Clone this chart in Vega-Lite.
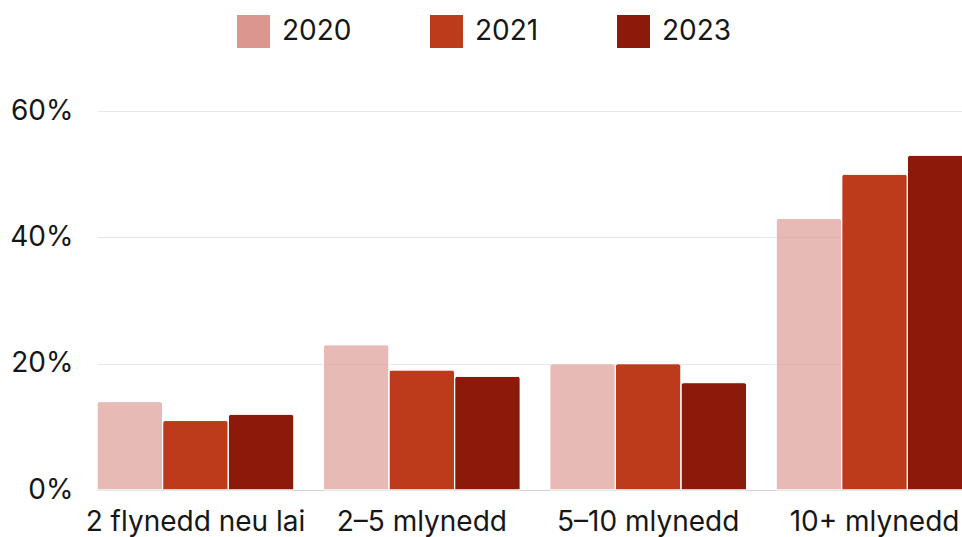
{
  "$schema": "https://vega.github.io/schema/vega-lite/v6.json",
  "autosize": "none",
  "width": 876,
  "height": 379,
  "padding": {"left": 97, "top": 111, "right": 0, "bottom": 47},
  "background": "white",
  "config": {
    "font": "Inter",
    "view": {"stroke": null}
  },
  "data": {
    "values": [
      {"category": "2 flynedd neu lai", "year": "2020", "value": 0.14},
      {"category": "2 flynedd neu lai", "year": "2021", "value": 0.11},
      {"category": "2 flynedd neu lai", "year": "2023", "value": 0.12},
      {"category": "2–5 mlynedd", "year": "2020", "value": 0.23},
      {"category": "2–5 mlynedd", "year": "2021", "value": 0.19},
      {"category": "2–5 mlynedd", "year": "2023", "value": 0.18},
      {"category": "5–10 mlynedd", "year": "2020", "value": 0.20},
      {"category": "5–10 mlynedd", "year": "2021", "value": 0.20},
      {"category": "5–10 mlynedd", "year": "2023", "value": 0.17},
      {"category": "10+ mlynedd", "year": "2020", "value": 0.43},
      {"category": "10+ mlynedd", "year": "2021", "value": 0.50},
      {"category": "10+ mlynedd", "year": "2023", "value": 0.53}
    ]
  },
  "mark": {"type": "bar", "cornerRadiusEnd": 3, "stroke": "white", "strokeWidth": 1},
  "encoding": {
    "x": {
      "field": "category",
      "type": "nominal",
      "sort": null,
      "scale": {"paddingInner": 0.13, "paddingOuter": 0},
      "axis": {
        "title": null,
        "labelAngle": 0,
        "labelFontSize": 28,
        "labelColor": "#161616",
        "labelPadding": 18,
        "labelLimit": 0,
        "ticks": false,
        "domainColor": "#d0d0d0",
        "domainWidth": 1
      }
    },
    "xOffset": {"field": "year", "type": "nominal", "scale": {"paddingInner": 0, "paddingOuter": 0}},
    "y": {
      "field": "value",
      "type": "quantitative",
      "scale": {"domain": [0, 0.6], "nice": false},
      "axis": {
        "title": null,
        "format": ".0%",
        "values": [0, 0.2, 0.4, 0.6],
        "labelFontSize": 28,
        "labelColor": "#161616",
        "labelPadding": 24,
        "ticks": false,
        "domain": false,
        "gridColor": "#e8e8e8",
        "gridWidth": 1
      }
    },
    "color": {
      "field": "year",
      "type": "nominal",
      "scale": {"domain": ["2020", "2021", "2023"], "range": ["#dc9690", "#bd3a1b", "#8c1a0a"]},
      "legend": {
        "title": null,
        "orient": "none",
        "direction": "horizontal",
        "legendX": 140,
        "legendY": -96,
        "symbolType": "square",
        "symbolSize": 1089,
        "symbolStrokeWidth": 0,
        "symbolOpacity": 1,
        "labelFontSize": 28,
        "labelColor": "#161616",
        "labelOffset": 12,
        "columnPadding": 78
      }
    },
    "opacity": {
      "condition": {"test": "datum.year == '2020'", "value": 0.65},
      "value": 1
    }
  }
}
